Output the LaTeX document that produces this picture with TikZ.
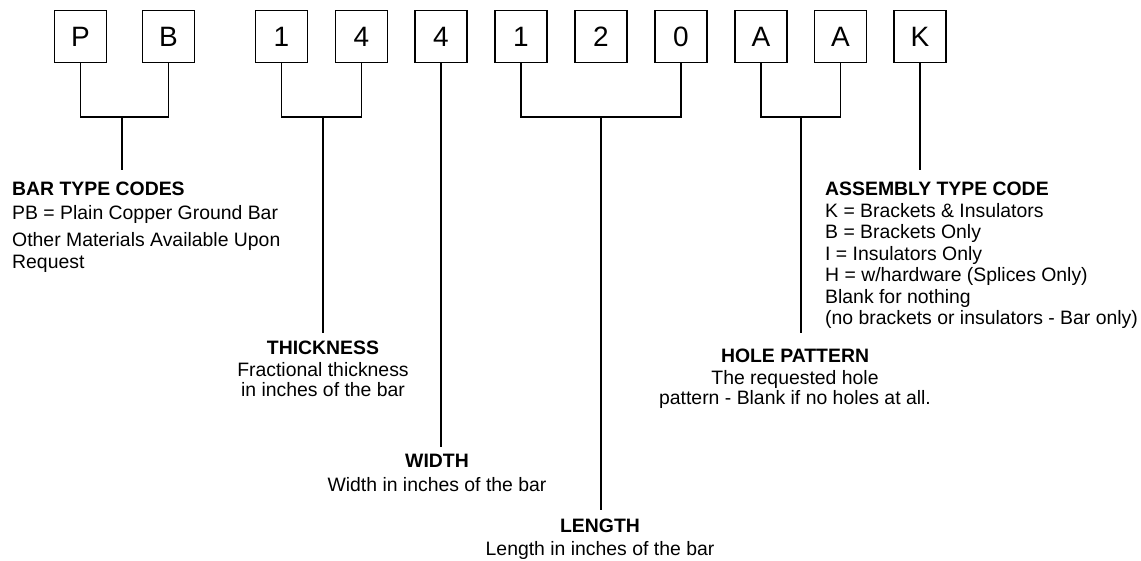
\documentclass[tikz,border=0pt]{standalone}
\usepackage{fontspec}
\setmainfont{Liberation Sans}
\begin{document}
\begin{tikzpicture}[x=1pt,y=-1pt,
  digit/.style={draw, line width=1.6pt, minimum size=52pt, inner sep=0pt, font=\fontsize{28}{28}\selectfont},
  wire/.style={line width=1.8pt},
  lbl/.style={inner sep=0pt, anchor=north},
]
\useasboundingbox (0,0) rectangle (1141,560);
% code boxes
\node[digit] (bP)  at (80.5,36.5)  {P};
\node[digit] (bB)  at (168.5,36.5) {B};
\node[digit] (b1)  at (281.5,36.5) {1};
\node[digit] (b4)  at (361.5,36.5) {4};
\node[digit] (b4w) at (441,36.5)   {4};
\node[digit] (b1l) at (521,36.5)   {1};
\node[digit] (b2)  at (601,36.5)   {2};
\node[digit] (b0)  at (681,36.5)   {0};
\node[digit] (bA)  at (761,36.5)   {A};
\node[digit] (bA2) at (840.5,36.5) {A};
\node[digit] (bK)  at (920,36.5)   {K};
% labels
\node[lbl, anchor=north west, align=left, font=\fontsize{19.4}{22}\selectfont] (tBar) at (12,182.1)
  {\textbf{BAR TYPE CODES}\\[2pt] PB = Plain Copper Ground Bar\\[5pt] Other Materials Available Upon\\ Request};
\node[lbl, align=center, font=\fontsize{19.4}{19.5}\selectfont] (tThk) at (323,341.1)
  {\textbf{THICKNESS}\\[2.5pt] Fractional thickness\\ in inches of the bar};
\node[lbl, align=center, font=\fontsize{19.4}{24}\selectfont] (tWid) at (437,454.1)
  {\textbf{WIDTH}\\ Width in inches of the bar};
\node[lbl, align=center, font=\fontsize{19.4}{23}\selectfont] (tLen) at (600,519.1)
  {\textbf{LENGTH}\\ Length in inches of the bar};
\node[lbl, align=center, font=\fontsize{19.4}{20}\selectfont] (tHol) at (795,349.1)
  {\textbf{HOLE PATTERN}\\[2pt] The requested hole\\ pattern - Blank if no holes at all.};
\node[lbl, anchor=north west, align=left, font=\fontsize{19.4}{21.5}\selectfont] (tAsm) at (825,182.1)
  {\textbf{ASSEMBLY TYPE CODE}\\ K = Brackets \& Insulators\\ B = Brackets Only\\ I = Insulators Only\\ H = w/hardware (Splices Only)\\ Blank for nothing\\ (no brackets or insulators - Bar only)};
% connectors
\coordinate (jBar) at (122,117);
\coordinate (jThk) at (323,117);
\coordinate (jLen) at (601,117);
\coordinate (jHol) at (801,117);
\draw[wire] (bP.south) |- (jBar) -| (bB.south);
\draw[wire, shorten >=12.1pt] (jBar) -- (jBar |- tBar.north);
\draw[wire] (b1.south) |- (jThk) -| (b4.south);
\draw[wire, shorten >=8.1pt] (jThk) -- (jThk |- tThk.north);
\draw[wire, shorten >=7.1pt] (b4w.south) -- (b4w.south |- tWid.north);
\draw[wire] (b1l.south) |- (jLen) -| (b0.south);
\draw[wire, shorten >=9.1pt] (jLen) -- (jLen |- tLen.north);
\draw[wire] (bA.south) |- (jHol) -| (bA2.south);
\draw[wire, shorten >=16.1pt] (jHol) -- (jHol |- tHol.north);
\draw[wire, shorten >=12.1pt] (bK.south) -- (bK.south |- tAsm.north);
\end{tikzpicture}
\end{document}
